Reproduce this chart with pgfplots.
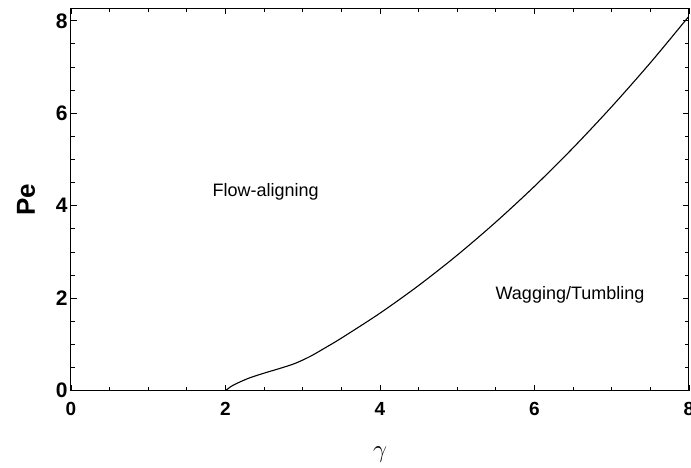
\documentclass[border=0pt]{standalone}
\usepackage{pgfplots}
\pgfplotsset{compat=1.18}
\usepackage{fontspec}
\setmainfont{Liberation Sans}
\begin{document}
\begin{tikzpicture}
\begin{axis}[
  at={(0,0)}, anchor=south west,
  scale only axis, width=618pt, height=382.4pt,
  xmin=0, xmax=8, ymin=0, ymax=8.27,
  xtick={0,2,4,6,8}, ytick={0,2,4,6,8},
  minor x tick num=3, minor y tick num=3,
  tick align=inside,
  major tick length=6pt, minor tick length=4pt,
  tick style={black, line width=0.9pt},
  axis line style={line width=1pt},
  /pgf/number format/assume math mode=true,
  yticklabel style={font=\fontsize{21}{21}\selectfont\bfseries},
  xticklabel style={font=\fontsize{19}{19}\selectfont\bfseries, yshift=-8pt},
  xlabel={$\gamma$}, ylabel={Pe},
  every axis x label/.style={at={(axis description cs:0.5,0)}, anchor=center, yshift=-64pt, font=\fontsize{24}{24}\selectfont},
  every axis y label/.style={at={(axis description cs:0,0.5)}, rotate=90, anchor=center, yshift=45pt, font=\fontsize{26}{26}\selectfont\bfseries},
]
\addplot[black, line width=1.1pt, smooth, tension=0.5] coordinates {
(2.00,0.00) (2.10,0.12) (2.30,0.27) (2.50,0.38) (2.70,0.48) (2.90,0.59)
(3.10,0.745) (3.30,0.937) (3.50,1.137) (4.00,1.677) (4.50,2.275)
(5.00,2.932) (5.50,3.648) (6.00,4.421) (6.50,5.253) (7.00,6.144)
(7.50,7.092) (8.00,8.10)
};
\node[font=\fontsize{18}{18}\selectfont] at (axis cs:2.52,4.30) {Flow-aligning};
\node[font=\fontsize{18}{18}\selectfont] at (axis cs:6.46,2.07) {Wagging/Tumbling};
\end{axis}
\pgfresetboundingbox
\path (-71pt,-76.3pt) rectangle (620pt,390.7pt);
\end{tikzpicture}
\end{document}
